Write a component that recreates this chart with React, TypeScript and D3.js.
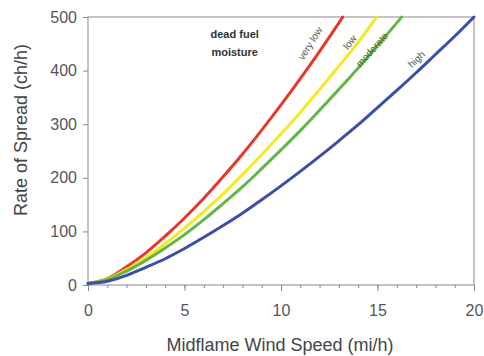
import { useEffect, useRef } from 'react';
import * as d3 from 'd3';

// wind speed (mi/h) and rate of spread (ch/h) per dead fuel moisture class
const veryLowU = [0, 1, 2, 3, 4, 5, 6, 7, 8, 9, 10, 11, 12, 13, 13.2];
const veryLowROS = [3, 12, 34, 60, 91, 125, 162, 202, 244, 289, 336, 385, 436, 489, 500];
const lowU = [0, 1, 2, 3, 4, 5, 6, 7, 8, 9, 10, 11, 12, 13, 14, 14.96];
const lowROS = [3, 11, 29, 51, 77, 106, 137, 170, 206, 243, 282, 322, 365, 408, 453, 500];
const moderateU = [0, 1, 2, 3, 4, 5, 6, 7, 8, 9, 10, 11, 12, 13, 14, 15, 16, 16.25];
const moderateROS = [3, 10, 26, 46, 69, 94, 122, 152, 183, 217, 252, 288, 326, 365, 405, 447, 489, 500];
const highU = [0, 1, 2, 3, 4, 5, 6, 7, 8, 9, 10, 11, 12, 13, 14, 15, 16, 17, 18, 19, 20];
const highROS = [3, 7, 18, 33, 49, 68, 89, 111, 134, 159, 185, 212, 240, 269, 299, 331, 363, 396, 430, 464, 500];

const xTicks = [0, 5, 10, 15, 20];
const yTicks = [0, 100, 200, 300, 400, 500];

const W = 484;
const H = 356;
const FONT = 'Liberation Sans, Arial, sans-serif';

export default function App() {
  const ref = useRef<SVGSVGElement>(null);

  useEffect(() => {
    const svg = d3.select(ref.current);
    svg.selectAll('*').remove();

    const margin = { top: 17, right: 10, bottom: 71, left: 88 };
    const x = d3.scaleLinear().domain([0, 20]).range([margin.left, W - margin.right]);
    const y = d3.scaleLinear().domain([0, 500]).range([H - margin.bottom, margin.top]);

    //frame
    svg
      .append('rect')
      .attr('x', x(0))
      .attr('y', y(500))
      .attr('width', x(20) - x(0))
      .attr('height', y(0) - y(500))
      .attr('fill', 'none')
      .attr('stroke', '#8a8a8a')
      .attr('stroke-width', 1);

    //x axis: minor ticks every unit, major every 5
    const xAxis = svg.append('g').attr('transform', `translate(0,${y(0)})`);
    xAxis
      .call(d3.axisBottom(x).ticks(20).tickSize(3).tickFormat(() => ''))
      .call((g) => g.select('.domain').remove())
      .call((g) => g.selectAll('line').attr('stroke', '#8a8a8a'));
    const xMajor = svg.append('g').attr('transform', `translate(0,${y(0)})`);
    xMajor
      .call(d3.axisBottom(x).tickValues(xTicks).tickSize(6).tickPadding(14).tickFormat(d3.format('d')))
      .call((g) => g.select('.domain').remove())
      .call((g) => g.selectAll('line').attr('stroke', '#8a8a8a'))
      .call((g) =>
        g.selectAll('text').attr('fill', '#555').attr('font-size', 16).attr('font-family', FONT)
      );

    //y axis
    svg
      .append('g')
      .attr('transform', `translate(${x(0)},0)`)
      .call(d3.axisLeft(y).tickValues(yTicks).tickSize(5).tickPadding(6))
      .call((g) => g.select('.domain').remove())
      .call((g) => g.selectAll('line').attr('stroke', '#8a8a8a'))
      .call((g) =>
        g.selectAll('text').attr('fill', '#555').attr('font-size', 16).attr('font-family', FONT)
      );

    //curves
    const series = [
      { u: veryLowU, r: veryLowROS, color: '#e8382b' },
      { u: lowU, r: lowROS, color: '#f3ea22' },
      { u: moderateU, r: moderateROS, color: '#63b545' },
      { u: highU, r: highROS, color: '#3d4ea8' },
    ];
    const line = d3
      .line<[number, number]>()
      .x((d) => x(d[0]))
      .y((d) => y(d[1]))
      .curve(d3.curveMonotoneX);
    series.forEach((s) => {
      const pts = s.u.map((u, i) => [u, s.r[i]] as [number, number]);
      svg
        .append('path')
        .datum(pts)
        .attr('fill', 'none')
        .attr('stroke', s.color)
        .attr('stroke-width', 3)
        .attr('stroke-linecap', 'round')
        .attr('d', line);
    });

    //curve labels
    const labels = [
      { text: 'very low', u: 11.55, r: 450, angle: -58, color: '#555' },
      { text: 'low', u: 13.6, r: 452, angle: -52, color: '#555' },
      { text: 'moderate', u: 14.75, r: 438, angle: -48, color: '#3c6b22' },
      { text: 'high', u: 17.05, r: 420, angle: -44, color: '#555' },
    ];
    labels.forEach((l) => {
      svg
        .append('text')
        .attr('transform', `translate(${x(l.u)},${y(l.r)}) rotate(${l.angle})`)
        .attr('text-anchor', 'middle')
        .attr('dominant-baseline', 'middle')
        .attr('font-family', FONT)
        .attr('font-size', 10)
        .attr('fill', l.color)
        .text(l.text);
    });

    //legend title
    const legend = svg
      .append('text')
      .attr('text-anchor', 'middle')
      .attr('font-family', FONT)
      .attr('font-size', 11)
      .attr('font-weight', 'bold')
      .attr('fill', '#333');
    legend.append('tspan').attr('x', x(7.6)).attr('y', 38).text('dead fuel');
    legend.append('tspan').attr('x', x(7.6)).attr('y', 56).text('moisture');

    //axis titles
    svg
      .append('text')
      .attr('x', (x(0) + x(20)) / 2 - 1)
      .attr('y', 351)
      .attr('text-anchor', 'middle')
      .attr('font-family', FONT)
      .attr('font-size', 18)
      .attr('fill', '#444')
      .text('Midflame Wind Speed (mi/h)');
    svg
      .append('text')
      .attr('transform', `translate(27,${130}) rotate(-90)`)
      .attr('text-anchor', 'middle')
      .attr('font-family', FONT)
      .attr('font-size', 18)
      .attr('fill', '#444')
      .text('Rate of Spread (ch/h)');
  }, []);

  return (
    <svg
      ref={ref}
      width={W}
      height={H}
      style={{ position: 'absolute', left: 0, top: 0, background: '#fff' }}
    />
  );
}
